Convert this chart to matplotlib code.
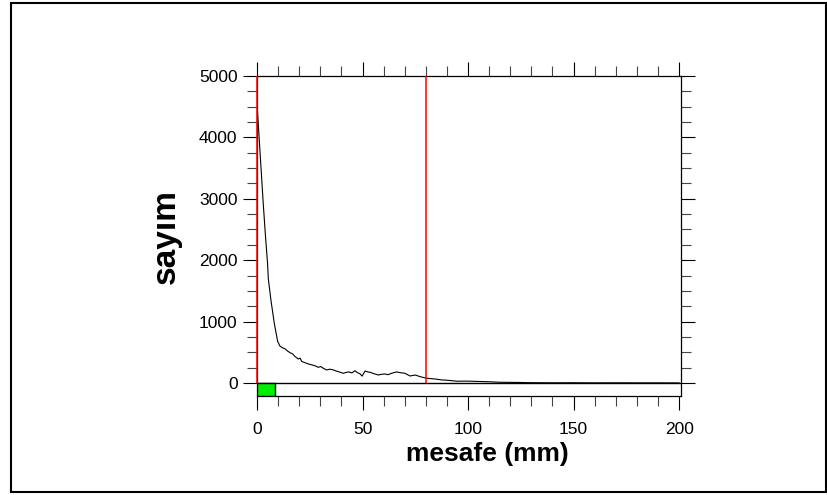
import matplotlib
matplotlib.use("Agg")
import matplotlib.pyplot as plt
from matplotlib.patches import Rectangle
from matplotlib.ticker import MultipleLocator

plt.rcParams["font.family"] = ["Liberation Sans", "DejaVu Sans"]

# distance (mm) and counts, 10 per row
distance = [0, 1, 2, 3, 4, 5, 5.35, 6.6, 8.2, 9.8,
            10.9, 12, 13.3, 14.5, 15.6, 17, 18, 19.6, 20.4, 21.2,
            22.8, 24.3, 26, 27.5, 29, 30.2, 31.4, 33, 34.5, 36.2,
            37.5, 38.5, 40.9, 42, 43.3, 45, 46.4, 47.5, 48.8, 49.8,
            51.2, 52.5, 53.6, 55.5, 57.5, 59, 60.7, 62, 63.8, 65,
            66.2, 67.8, 70.1, 72.5, 74.9, 76, 77.3, 80, 82, 84.4,
            87.5, 90, 92.3, 95, 97, 100, 105, 110, 115, 120,
            125, 130, 140, 150, 160, 170, 180, 190, 200]
counts = [4550, 4000, 3450, 2900, 2400, 1950, 1700, 1350, 970, 675,
          600, 575, 555, 520, 495, 470, 430, 390, 405, 350,
          330, 310, 295, 280, 255, 268, 240, 212, 225, 212,
          195, 185, 158, 170, 180, 165, 200, 170, 150, 112,
          195, 180, 174, 150, 130, 142, 147, 135, 158, 170,
          180, 168, 158, 114, 130, 118, 103, 80, 72, 65,
          50, 45, 37, 28, 30, 30, 25, 20, 12, 10,
          8, 5, 3, 4, 2, 3, 2, 2, 1]

marker_lines = [0, 80]          # red vertical markers (mm)
green_width = 8.4               # green box at the origin (mm)
x_max = 200.9
y_min, y_max = -212, 5000

fig = plt.figure(figsize=(8.28, 4.95), dpi=100)
ax = fig.add_axes([257 / 828, 1 - 396 / 495, 424 / 828, 320 / 495])

ax.plot(distance, counts, color="black", lw=0.8, zorder=3)
ax.axhline(0, color="black", lw=1.0, zorder=2)
ax.vlines(marker_lines, 0, y_max, color="red", lw=1.1, zorder=4, clip_on=False)
ax.add_patch(Rectangle((0, y_min), green_width, -y_min, facecolor="#00ee00",
                       edgecolor="black", lw=1.0, zorder=3))

ax.set_xlim(0, x_max)
ax.set_ylim(y_min, y_max)
ax.xaxis.set_major_locator(MultipleLocator(50))
ax.xaxis.set_minor_locator(MultipleLocator(10))
ax.set_yticks([0, 1000, 2000, 3000, 4000, 5000])
ax.yaxis.set_minor_locator(MultipleLocator(250))

ax.tick_params(axis="both", which="both", direction="out", width=0.8,
               top=True, right=True, labelsize=12.5)
ax.tick_params(axis="both", which="major", length=10)
ax.tick_params(axis="both", which="minor", length=7, color="#444444")
ax.tick_params(axis="x", which="major", pad=9)
ax.tick_params(axis="y", which="major", pad=4)
for s in ax.spines.values():
    s.set_linewidth(0.9)

ax.set_xlabel("mesafe (mm)", fontsize=19, fontweight="bold")
ax.xaxis.label.set_va("center")
ax.xaxis.set_label_coords(0.5425, -0.181)
ax.set_ylabel("sayım", fontsize=24, fontweight="bold")
ax.yaxis.label.set_va("center")
ax.yaxis.set_label_coords(-0.2146, 0.5)

# outer frame
fig.patches.append(Rectangle((11 / 828, 1 - 492 / 495), 815 / 828, 489 / 495,
                             transform=fig.transFigure, fill=False,
                             edgecolor="black", lw=1.5))

fig.savefig("out.png", dpi=100)
